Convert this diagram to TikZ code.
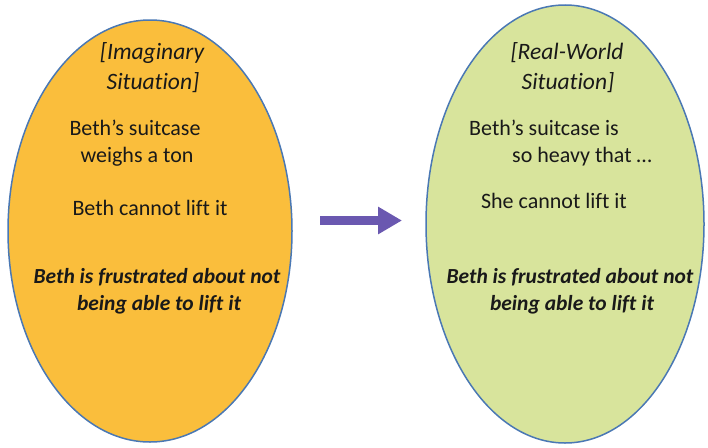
\documentclass[tikz,border=0pt]{standalone}
\usepackage{fontspec}
\setmainfont{Carlito}[Ligatures={NoCommon}]
\usetikzlibrary{shapes.geometric,arrows.meta}

\definecolor{imagfill}{RGB}{250,190,60}
\definecolor{realfill}{RGB}{216,228,156}
\definecolor{rimblue}{RGB}{74,120,180}
\definecolor{arrowpurple}{RGB}{106,88,176}
\definecolor{ink}{RGB}{25,25,25}

\tikzset{
  situation/.style={ellipse, draw=rimblue, line width=1.5pt, inner sep=0pt},
  txt/.style={anchor=base, inner sep=0pt, text=ink, font=\fontsize{22}{26}\selectfont},
  heading/.style={txt, font=\fontsize{23.5}{28}\selectfont\itshape},
  emph/.style={txt, font=\fontsize{21.5}{26}\selectfont\bfseries\itshape},
  flow/.style={draw=arrowpurple, line width=9pt, -{Triangle[length=24pt,width=26pt]}}
}

\begin{document}
\begin{tikzpicture}[x=1pt,y=-1pt]
  \useasboundingbox (0,0) rectangle (708,447);

  % the two situations
  \node[situation, fill=imagfill, minimum width=284pt, minimum height=422pt] (imag) at (150,231) {};
  \node[situation, fill=realfill, minimum width=278pt, minimum height=438pt] (real) at (565,224) {};

  % imaginary situation
  \node[heading] (ih1) at (152,59) {[Imaginary};
  \node[heading] (ih2) at (153,89) {Situation]};
  \node[txt] (i1a) at (135,135) {Beth’s suitcase};
  \node[txt] (i1b) at (137,162) {weighs a ton};
  \node[txt] (i2) at (150,215) {Beth cannot lift it};
  \node[emph] (i3a) at (157,283) {Beth is frustrated about not};
  \node[emph] (i3b) at (159,310) {being able to lift it};

  % real-world situation
  \node[heading] (rh1) at (567,59) {[Real-World};
  \node[heading] (rh2) at (568,89) {Situation]};
  \node[txt] (r1a) at (544,135) {Beth’s suitcase is};
  \node[txt] (r1b) at (582,162) {so heavy that …};
  \node[txt] (r2) at (554,208) {She cannot lift it};
  \node[emph] (r3a) at (570,283) {Beth is frustrated about not};
  \node[emph] (r3b) at (572,310) {being able to lift it};

  % arrow between the situations
  \coordinate (astart) at (320,220.5);
  \coordinate (aend) at (402,220.5);
  \draw[flow] (astart) -- (aend);
\end{tikzpicture}
\end{document}
